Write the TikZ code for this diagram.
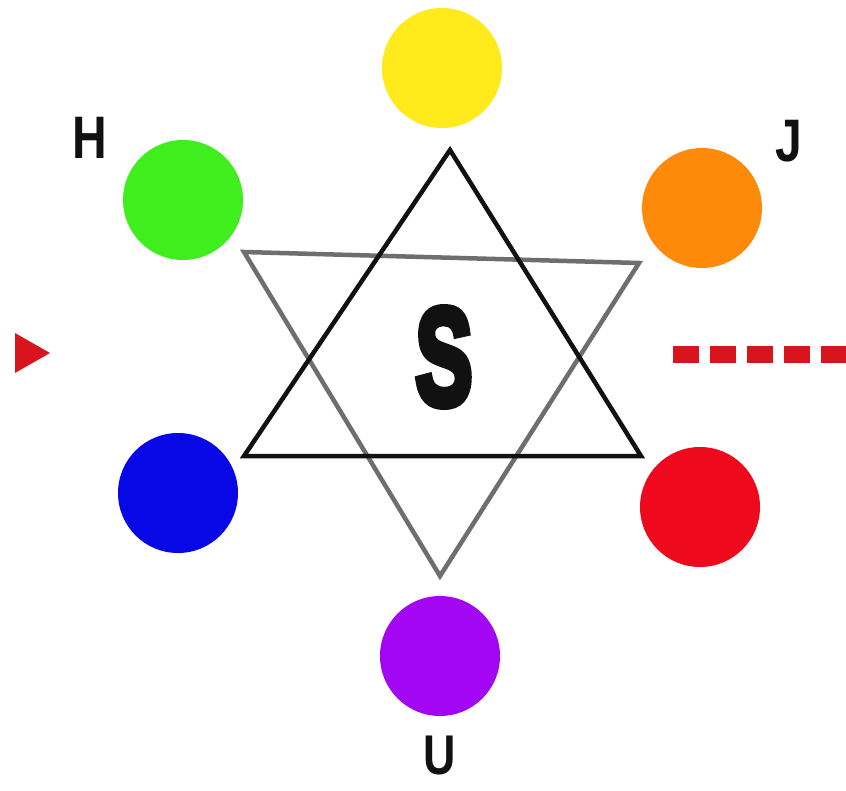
\documentclass[tikz,border=0pt]{standalone}
\usepackage{fontspec}
\setmainfont{Liberation Sans}
\newfontfamily\lblfont{Liberation Sans}[BoldFont={* Bold}]
\newfontfamily\bigsfont[FakeBold=6]{Liberation Sans Bold}
\definecolor{cyel}{HTML}{FFEA1C}
\definecolor{cgrn}{HTML}{40EE1E}
\definecolor{corg}{HTML}{FF8A0A}
\definecolor{cblu}{HTML}{0808E6}
\definecolor{cred}{HTML}{EE0A1C}
\definecolor{cpur}{HTML}{A206F2}
\definecolor{tgray}{HTML}{6E6E6E}
\definecolor{tblk}{HTML}{111111}
\definecolor{mred}{HTML}{D8141C}
\begin{document}
\begin{tikzpicture}[x=1pt,y=-1pt,
  dot/.style={circle,minimum size=120pt,inner sep=0pt,draw=none},
  lbl/.style={font=\lblfont\bfseries\fontsize{60}{60}\selectfont,text=tblk,inner sep=0pt,xscale=0.8},
  tri/.style={line width=4.5pt,line join=miter}]
\useasboundingbox (0,0) rectangle (846,790);
\fill[white] (0,0) rectangle (846,790);
% circles
\node[dot,fill=cyel] (yel) at (442,68) {};
\node[dot,fill=cgrn] (grn) at (183,200) {};
\node[dot,fill=corg] (org) at (702,208) {};
\node[dot,fill=cblu] (blu) at (178,493) {};
\node[dot,fill=cred] (red) at (700,507) {};
\node[dot,fill=cpur] (pur) at (440,656) {};
% triangles
\coordinate (ga) at (244,252);
\coordinate (gb) at (639,263);
\coordinate (gc) at (440,576);
\draw[tri,draw=tgray] (ga) -- (gb) -- (gc) -- cycle;
\coordinate (ba) at (450,150);
\coordinate (bb) at (641,456);
\coordinate (bc) at (244,456);
\draw[tri,draw=tblk] (ba) -- (bb) -- (bc) -- cycle;
% center S
\node[font=\bigsfont\fontsize{138}{138}\selectfont,text=tblk,inner sep=0pt,xscale=0.62] (S) at (444,357) {S};
% labels
\node[lbl] (H) at (90,138) {H};
\node[lbl] (J) at (789,141) {J};
\node[lbl,font=\lblfont\bfseries\fontsize{56}{56}\selectfont] (U) at (440,755) {U};
% red marker
\fill[mred] (15,333) -- (50,353) -- (15,373) -- cycle;
\coordinate (d1) at (673,354);
\coordinate (d2) at (846,354);
\draw[mred,line width=17pt,dash pattern=on 26pt off 11pt] (d1) -- (d2);
\end{tikzpicture}
\end{document}
